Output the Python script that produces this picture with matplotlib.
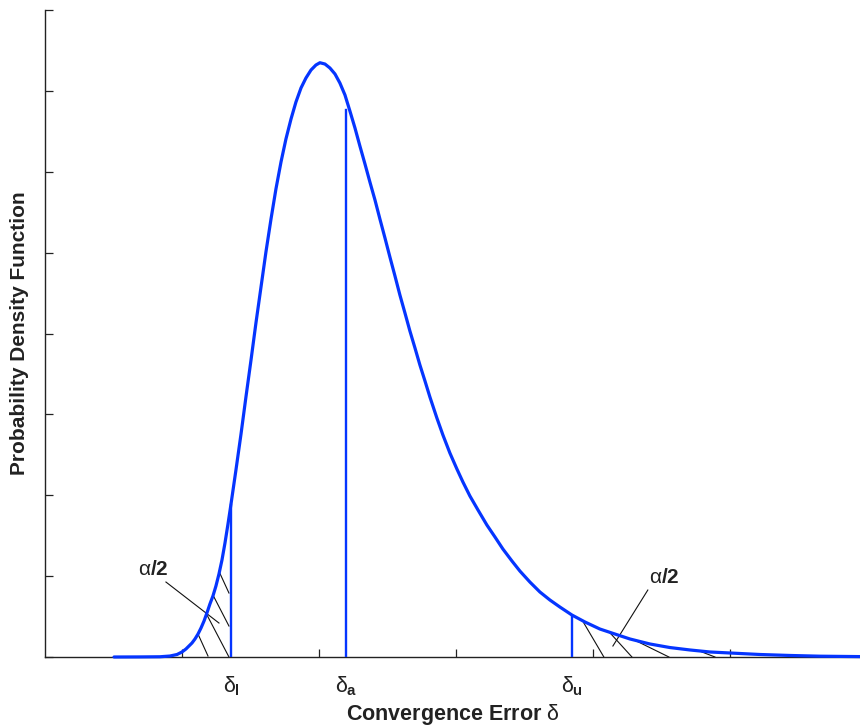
import matplotlib
matplotlib.use("Agg")
import matplotlib.pyplot as plt
import matplotlib.transforms as mtransforms

plt.rcParams["font.family"] = ["Liberation Sans", "DejaVu Sans"]
plt.rcParams["mathtext.fontset"] = "custom"
plt.rcParams["mathtext.rm"] = "Liberation Sans"
plt.rcParams["mathtext.it"] = "Liberation Sans"
plt.rcParams["mathtext.bf"] = "Liberation Sans:bold"

# curve (x = convergence error, y = pdf)
pdf_x = [0.504, 0.693, 0.839, 0.912, 0.964, 1.000, 1.029, 1.051, 1.073, 1.095,
         1.117, 1.139, 1.161, 1.182, 1.204, 1.226, 1.248, 1.270, 1.292, 1.314,
         1.336, 1.358, 1.394, 1.431, 1.467, 1.504, 1.540, 1.577, 1.613, 1.650,
         1.686, 1.723, 1.759, 1.796, 1.832, 1.869, 1.905, 1.942, 1.978, 2.007,
         2.044, 2.080, 2.117, 2.153, 2.190, 2.226, 2.263, 2.299, 2.336, 2.372,
         2.409, 2.445, 2.482, 2.518, 2.555, 2.591, 2.628, 2.664, 2.701, 2.737,
         2.774, 2.810, 2.861, 2.905, 2.956, 3.007, 3.051, 3.102, 3.161, 3.226,
         3.285, 3.343, 3.409, 3.467, 3.540, 3.613, 3.686, 3.759, 3.847, 3.942,
         4.051, 4.161, 4.270, 4.416, 4.562, 4.708, 4.854, 5.007, 5.219, 5.438,
         5.657, 5.949]
pdf_y = [0.0, 0.001, 0.003, 0.012, 0.031, 0.062, 0.099, 0.136, 0.173, 0.223,
         0.284, 0.359, 0.445, 0.544, 0.655, 0.754, 0.878, 1.026, 1.199, 1.410,
         1.645, 1.892, 2.312, 2.757, 3.215, 3.672, 4.130, 4.575, 5.008, 5.416,
         5.787, 6.121, 6.405, 6.652, 6.862, 7.036, 7.159, 7.258, 7.320, 7.348,
         7.332, 7.283, 7.209, 7.097, 6.949, 6.751, 6.541, 6.318, 6.096, 5.873,
         5.651, 5.416, 5.181, 4.946, 4.711, 4.476, 4.253, 4.031, 3.821, 3.611,
         3.413, 3.215, 2.955, 2.745, 2.522, 2.325, 2.164, 1.991, 1.818, 1.632,
         1.484, 1.335, 1.187, 1.063, 0.927, 0.804, 0.705, 0.618, 0.519, 0.433,
         0.346, 0.284, 0.223, 0.161, 0.117, 0.087, 0.062, 0.049, 0.031, 0.019,
         0.010, 0.005]

# marker lines: lower bound, actual, upper bound
delta_names = [r"$\delta_\mathbf{l}$", r"$\delta_\mathbf{a}$", r"$\delta_\mathbf{u}$"]
delta_x = [1.358, 2.197, 3.844]
delta_top = [1.88, 6.76, 0.50]

# hatch strokes in the tails (x0, y0, x1, y1)
hatch_left = [(1.117, 0.284, 1.190, 0.012), (1.175, 0.544, 1.343, 0.0),
              (1.226, 0.767, 1.343, 0.383), (1.270, 1.060, 1.343, 0.791)]
hatch_right = [(3.927, 0.440, 4.080, 0.0), (4.124, 0.300, 4.285, 0.0),
               (4.321, 0.195, 4.555, 0.0), (4.796, 0.062, 4.891, 0.0)]
leaders = [(0.883, 0.927, 1.270, 0.420), (4.401, 0.828, 4.146, 0.136)]
alpha_pos = [(0.788, 1.076), (4.518, 0.977)]

blue = "#0535ff"
axcol = "#222222"

fig = plt.figure(figsize=(8.6, 7.28), dpi=100)
ax = fig.add_axes([45 / 860, 71 / 728, 815 / 860, 647 / 728])

ax.plot(pdf_x, pdf_y, color=blue, lw=2.3, solid_joinstyle="round",
        solid_capstyle="round", clip_on=False, zorder=3)
for xv, top in zip(delta_x, delta_top):
    ax.plot([xv, xv], [0, top], color=blue, lw=1.7, zorder=3)

for x0, y0, x1, y1 in hatch_left + hatch_right + leaders:
    ax.plot([x0, x1], [y0, y1], color="#111111", lw=0.8)

for xa, ya in alpha_pos:
    ax.text(xa, ya, r"$\alpha$/2", fontsize=15, fontweight="bold",
            ha="center", va="center", color="#222222")

trans = mtransforms.blended_transform_factory(ax.transData, ax.transAxes)
for name, xv in zip(delta_names, delta_x):
    ax.text(xv, -0.045, name, transform=trans, fontsize=15.5,
            ha="center", va="center", color="#222222")

ax.set_xlim(0, 5.95)
ax.set_ylim(0, 8)
ax.set_xticks([1, 2, 3, 4, 5])
ax.set_yticks(range(0, 9))
ax.set_xticklabels([])
ax.set_yticklabels([])
ax.tick_params(direction="in", length=5.5, width=0.9, color=axcol)
for side in ["top", "right"]:
    ax.spines[side].set_visible(False)
for side in ["left", "bottom"]:
    ax.spines[side].set_color(axcol)
    ax.spines[side].set_linewidth(1.0)

ax.set_xlabel(r"Convergence Error $\delta$", fontsize=15.5, fontweight="bold",
              color="#222222", labelpad=29)
ax.set_ylabel("Probability Density Function", fontsize=15, fontweight="bold",
              color="#222222", labelpad=8)

fig.savefig("out.png", dpi=100)
